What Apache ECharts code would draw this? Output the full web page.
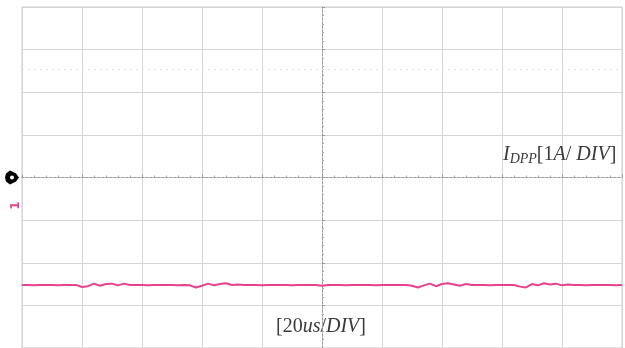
<!DOCTYPE html>
<html><head><meta charset="utf-8">
<script src="https://cdn.jsdelivr.net/npm/echarts@6/dist/echarts.min.js"></script>
<style>html,body{margin:0;padding:0;background:#fff}#c{width:625px;height:348px}</style>
</head><body><div id="c"></div>
<script>
// time axis in divisions (20us/DIV), -5..5 step 0.1
const timeDiv = [];
for (let i = 0; i <= 100; i++) timeDiv.push(+(-5 + i * 0.1).toFixed(1));
// I_DPP trace, in divisions (1A/DIV)
const idpp = [
 -2.52,-2.52,-2.53,-2.52,-2.52,-2.52,-2.53,-2.52,-2.52,
 -2.52,-2.57,-2.55,-2.49,-2.54,-2.50,-2.49,-2.53,-2.49,-2.52,
 -2.52,-2.52,-2.53,-2.52,-2.52,-2.52,-2.52,-2.53,-2.52,
 -2.53,-2.58,-2.54,-2.49,-2.53,-2.50,-2.48,-2.52,-2.51,
 -2.52,-2.52,-2.52,-2.53,-2.52,-2.52,-2.52,-2.52,-2.53,-2.52,-2.52,-2.52,-2.52,-2.54,-2.52,-2.52,-2.52,-2.53,-2.52,-2.52,-2.52,-2.52,-2.53,-2.52,-2.52,-2.52,-2.52,-2.52,
 -2.54,-2.58,-2.53,-2.49,-2.55,-2.50,-2.48,-2.51,-2.54,-2.50,-2.52,
 -2.52,-2.52,-2.53,-2.52,-2.52,-2.52,-2.52,
 -2.56,-2.58,-2.50,-2.53,-2.48,-2.51,-2.49,-2.53,-2.51,
 -2.52,-2.52,-2.53,-2.52,-2.52,-2.52,-2.52,-2.53,-2.52
];
const cursorLevel = [2.53];
const yLabel = '{i|I}{s|DPP}{n|[1}{i|A}{n|/ }{i|DIV}{n|]}';
const xLabel = '{n|[20}{i|us}{n|/}{i|DIV}{n|]}';

const chart = echarts.init(document.getElementById('c'));
const rich = {
  i:{fontFamily:'Liberation Serif',fontStyle:'italic',fontSize:20,fill:'#3a3a3a',color:'#3a3a3a'},
  n:{fontFamily:'Liberation Serif',fontSize:20,fill:'#3a3a3a',color:'#3a3a3a'},
  s:{fontFamily:'Liberation Serif',fontStyle:'italic',fontSize:14,fill:'#3a3a3a',color:'#3a3a3a',padding:[9,0,0,0]}
};
const axisCommon = {
  axisLine:{show:true,onZero:true,lineStyle:{color:'#9a9a9a',type:[2,2],width:1}},
  axisTick:{show:true,inside:true,length:3,lineStyle:{color:'#999'}},
  minorTick:{show:true,splitNumber:5,length:2,lineStyle:{color:'#aaa'}},
  axisLabel:{show:false},
  splitLine:{show:true,lineStyle:{color:'#d6d6d6',width:1}}
};
chart.setOption({
  animation:false,
  grid:{left:22,top:7,width:600,height:344,show:true,borderColor:'#c8c8c8',borderWidth:1},
  xAxis:Object.assign({type:'value',min:-5,max:5,interval:1},axisCommon),
  yAxis:Object.assign({type:'value',min:-4,max:4,interval:1},axisCommon),
  series:[{
    type:'line',showSymbol:false,
    data:timeDiv.map((t,k)=>[t,idpp[k]]),
    lineStyle:{color:'#e8428e',width:2},
    markLine:{silent:true,symbol:'none',label:{show:false},
      lineStyle:{color:'#e2e2e2',type:[2,4],width:1},
      data:cursorLevel.map(v=>({yAxis:v}))}
  }]
});
const p0 = chart.convertToPixel({gridIndex:0},[0,0]);
chart.setOption({graphic:[
  {type:'text',left:503,top:145,style:{text:yLabel,rich:rich}},
  {type:'text',left:276,top:317,style:{text:xLabel,rich:rich}},
  {type:'polygon',shape:{points:[[6,p0[1]-4],[10,p0[1]-7],[16,p0[1]-4],[19,p0[1]],[16,p0[1]+4],[10,p0[1]+7],[6,p0[1]+4],[5,p0[1]]]},style:{fill:'#000'}},
  {type:'circle',shape:{cx:12,cy:p0[1],r:2},style:{fill:'#fff'}},
  {type:'text',x:16,y:p0[1]+28,rotation:Math.PI/2,style:{text:'1',fill:'#e8428e',fontSize:12,fontWeight:'bold',fontFamily:'DejaVu Sans',align:'center',verticalAlign:'middle'}}
]});
</script></body></html>
